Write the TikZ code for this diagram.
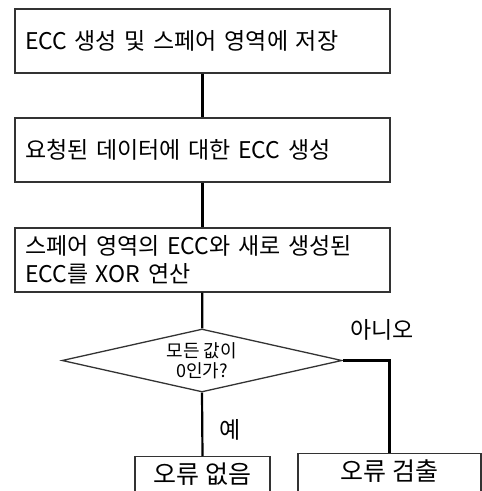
\documentclass[tikz,border=0pt]{standalone}
\usepackage{fontspec}
\setmainfont{Noto Sans CJK KR}
\usetikzlibrary{shapes.geometric}
\begin{document}
\begin{tikzpicture}[x=1pt,y=-1pt,
  procbox/.style={draw=black!80,line width=1.3pt,rectangle,minimum width=375pt,minimum height=64pt,
    text width=355pt,inner xsep=10pt,align=left,font=\fontsize{23}{28}\selectfont},
  endbox/.style={draw=black!80,line width=1.3pt,rectangle,anchor=north,inner xsep=0pt,inner ysep=0pt,
    text height=27pt,text depth=45pt,font=\fontsize{25}{28}\selectfont},
  decision/.style={draw=black!80,line width=1.3pt,diamond,shape aspect=4.44,minimum width=280pt,minimum height=63pt,
    inner sep=0pt,align=center,font=\fontsize{18}{20.5}\selectfont},
  conn/.style={line width=2.2pt,black},
  lbl/.style={font=\fontsize{23}{26}\selectfont,inner sep=0pt}]
\fill[white] (0,0) rectangle (482,491);
\useasboundingbox (0,0) rectangle (482,491);
\node[procbox] (b1) at (202.5,41) {ECC 생성 및 스페어 영역에 저장};
\node[procbox] (b2) at (202.5,150) {요청된 데이터에 대한 ECC 생성};
\node[procbox] (b3) at (202.5,260) {스페어 영역의 ECC와 새로 생성된\\ECC를 XOR 연산};
\node[decision] (d) at (202,360.5) {모든 값이\\0인가?};
\node[endbox,minimum width=135pt] (e1) at (202.5,456) {오류 없음};
\node[endbox,minimum width=183pt] (e2) at (389.5,453) {오류 검출};
\draw[conn] (b1) -- (b2);
\draw[conn] (b2) -- (b3);
\draw[conn] (b3) -- (d);
\draw[conn] (d.south) -- (e1.north);
\draw[conn] (d.east) -| (e2.north);
\node[lbl] (no) at (382,330) {아니오};
\node[lbl] (yes) at (230,430) {예};
\end{tikzpicture}
\end{document}
